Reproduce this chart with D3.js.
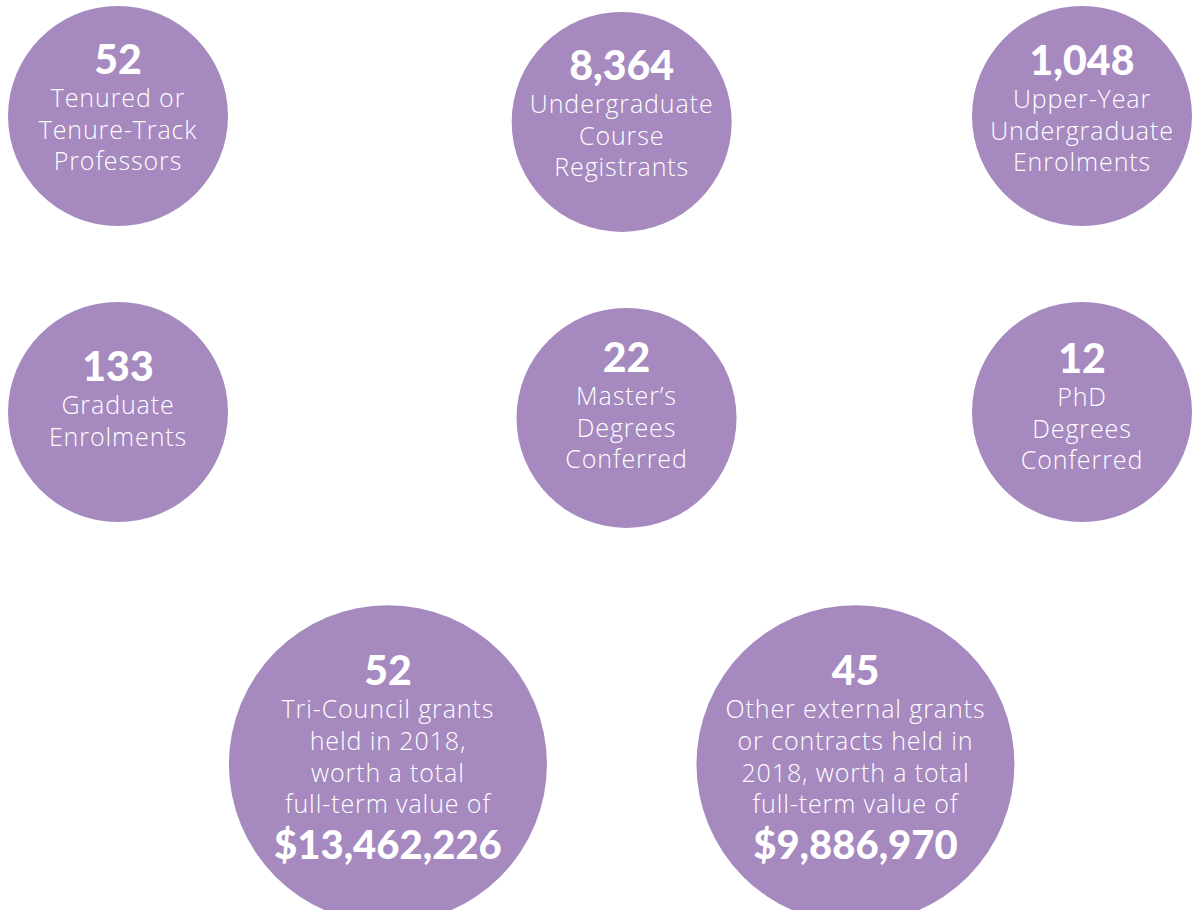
<!DOCTYPE html>
<html>
<head>
<meta charset="utf-8">
<script src="https://cdn.jsdelivr.net/npm/d3@7"></script>
<style>
  html, body { margin: 0; padding: 0; background: #ffffff; }
  svg { display: block; }
</style>
</head>
<body>
<svg id="chart" width="1192" height="910"></svg>
<script>
// ---- data ----
const figures = ["52", "8,364", "1,048", "133", "22", "12", "52", "45"];
const labels = [
  ["Tenured or", "Tenure-Track", "Professors"],
  ["Undergraduate", "Course", "Registrants"],
  ["Upper-Year", "Undergraduate", "Enrolments"],
  ["Graduate", "Enrolments"],
  ["Master\u2019s", "Degrees", "Conferred"],
  ["PhD", "Degrees", "Conferred"],
  ["Tri-Council grants", "held in 2018,", "worth a total", "full-term value of"],
  ["Other external grants", "or contracts held in", "2018, worth a total", "full-term value of"]
];
const amounts = ["", "", "", "", "", "", "$13,462,226", "$9,886,970"];

// ---- layout (grid units and text offsets, not data) ----
const gridCol = [0, 1.045, 2, 0, 1.055, 2, 0.56, 1.53];
const gridRow = [0, 0.02, 0, 1, 1.02, 1, 2.19, 2.19];
const big = [false, false, false, false, false, false, true, true];
const textTop = [-42, -42, -41, -31, -46, -39, -79, -79];

const svg = d3.select("#chart");
const x = d3.scaleLinear().domain([0, 2]).range([118, 1082]);
const y = d3.scaleLinear().domain([0, 1]).range([116, 412]);
const r = d3.scaleOrdinal().domain([false, true]).range([110, 159]);

const items = figures.map((f, i) => ({
  figure: f, lines: labels[i], amount: amounts[i],
  cx: x(gridCol[i]), cy: y(gridRow[i]), big: big[i], top: textTop[i]
}));

const g = svg.selectAll("g.item").data(items).join("g")
  .attr("class", "item")
  .attr("transform", d => `translate(${d.cx},${d.cy})`);

g.append("circle")
  .attr("r", d => r(d.big))
  .attr("fill", "#a589bf");

const lineH = 31.7;
g.each(function(d) {
  const el = d3.select(this);
  const n = d.lines.length;
  const top = d.top;
  el.append("text")
    .attr("x", 0).attr("y", top)
    .attr("text-anchor", "middle")
    .attr("fill", "#ffffff")
    .style("font-family", "Lato, sans-serif")
    .style("font-weight", 900)
    .style("font-size", "41px")
    .text(d.figure);
  el.selectAll("text.lbl").data(d.lines).join("text")
    .attr("class", "lbl")
    .attr("x", 0)
    .attr("y", (t, k) => top + 33 + k * lineH)
    .attr("text-anchor", "middle")
    .attr("fill", "#ffffff")
    .style("font-family", "'Open Sans', sans-serif")
    .style("font-weight", 300)
    .style("font-size", "25px")
    .style("letter-spacing", "0.9px")
    .text(t => t);
  if (d.amount) {
    el.append("text")
      .attr("x", 0)
      .attr("y", top + 33 + (n - 1) * lineH + 46)
      .attr("text-anchor", "middle")
      .attr("fill", "#ffffff")
      .style("font-family", "Lato, sans-serif")
      .style("font-weight", 900)
      .style("font-size", "40px")
      .text(d.amount);
  }
});
</script>
</body>
</html>
